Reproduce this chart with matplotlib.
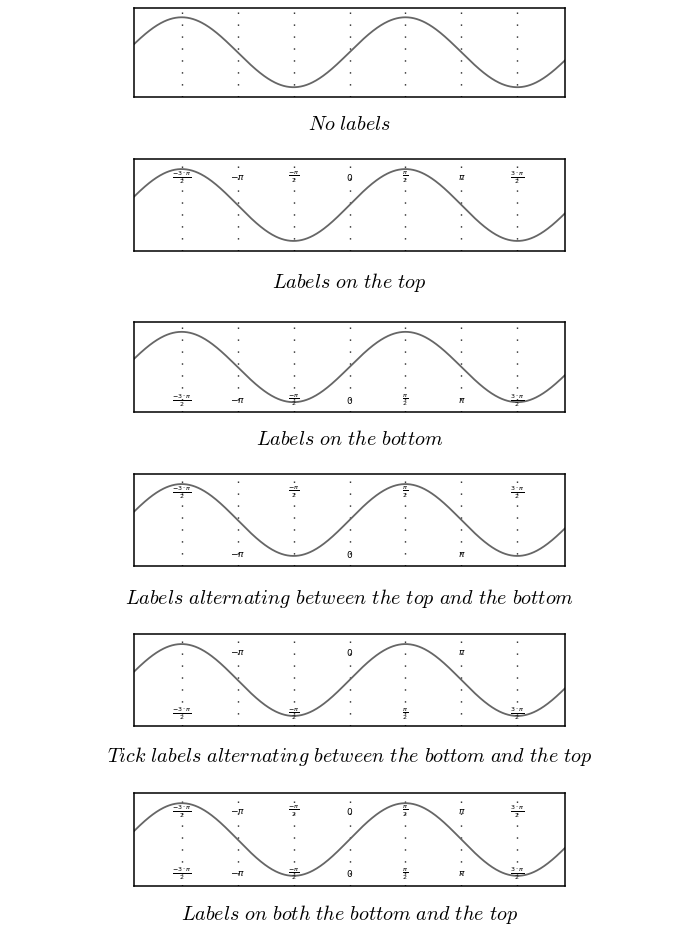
import numpy as np
import matplotlib
matplotlib.use("Agg")
import matplotlib.pyplot as plt

plt.rcParams['mathtext.fontset'] = 'cm'

# tick positions (multiples of pi/2) and their labels
tick_mult = [-1.5, -1.0, -0.5, 0.0, 0.5, 1.0, 1.5]
tick_labels = [r'$\frac{-3\cdot\pi}{2}$', r'$-\pi$', r'$\frac{-\pi}{2}$', r'$0$',
               r'$\frac{\pi}{2}$', r'$\pi$', r'$\frac{3\cdot\pi}{2}$']

captions = [
    "No labels",
    "Labels on the top",
    "Labels on the bottom",
    "Labels alternating between the top and the bottom",
    "Tick labels alternating between the bottom and the top",
    "Labels on both the bottom and the top",
]

# which ticks get a top / bottom label in each panel
top_flags = [
    [0, 0, 0, 0, 0, 0, 0],
    [1, 1, 1, 1, 1, 1, 1],
    [0, 0, 0, 0, 0, 0, 0],
    [1, 0, 1, 0, 1, 0, 1],
    [0, 1, 0, 1, 0, 1, 0],
    [1, 1, 1, 1, 1, 1, 1],
]
bottom_flags = [
    [0, 0, 0, 0, 0, 0, 0],
    [0, 0, 0, 0, 0, 0, 0],
    [1, 1, 1, 1, 1, 1, 1],
    [0, 1, 0, 1, 0, 1, 0],
    [1, 0, 1, 0, 1, 0, 1],
    [1, 1, 1, 1, 1, 1, 1],
]

# panel boxes in pixels (top, bottom), caption centres
W, H = 695, 929
box_left, box_right = 134, 565
box_tb = [(8.5, 98), (160, 252), (323, 413), (475, 567), (635, 727), (794, 887)]
caption_y = [125, 283, 440, 598, 757, 915]

fig = plt.figure(figsize=(W / 100, H / 100), dpi=100)

x = np.linspace(-6.05, 6.05, 600)
ticks = [m * np.pi for m in tick_mult]

for i, (top, bot) in enumerate(box_tb):
    ax = fig.add_axes([box_left / W, 1 - bot / H, (box_right - box_left) / W, (bot - top) / H])
    ax.plot(x, np.sin(x), color="#666666", lw=1.3, zorder=2)
    ax.set_xlim(-6.05, 6.05)
    ax.set_ylim(-1.28, 1.28)
    for t in ticks:
        ax.axvline(t, color="#222222", lw=1.0, linestyle=(0, (1, 7.6)), zorder=1)
    for j, t in enumerate(ticks):
        if top_flags[i][j]:
            ax.text(t, 0.81, tick_labels[j], transform=ax.get_xaxis_transform(),
                    ha="center", va="center", fontsize=6.5, color="black",
                    math_fontfamily="dejavusans", zorder=3)
        if bottom_flags[i][j]:
            ax.text(t, 0.14, tick_labels[j], transform=ax.get_xaxis_transform(),
                    ha="center", va="center", fontsize=6.5, color="black",
                    math_fontfamily="dejavusans", zorder=3)
    ax.set_xticks([])
    ax.set_yticks([])
    for s in ax.spines.values():
        s.set_linewidth(1.1)
        s.set_color("black")

    cap = captions[i].replace(" ", r"\ ")
    fig.text((box_left + box_right) / 2 / W, 1 - caption_y[i] / H, r"$\mathit{" + cap + "}$",
             ha="center", va="center", fontsize=14.5)

fig.savefig("out.png", dpi=100)
